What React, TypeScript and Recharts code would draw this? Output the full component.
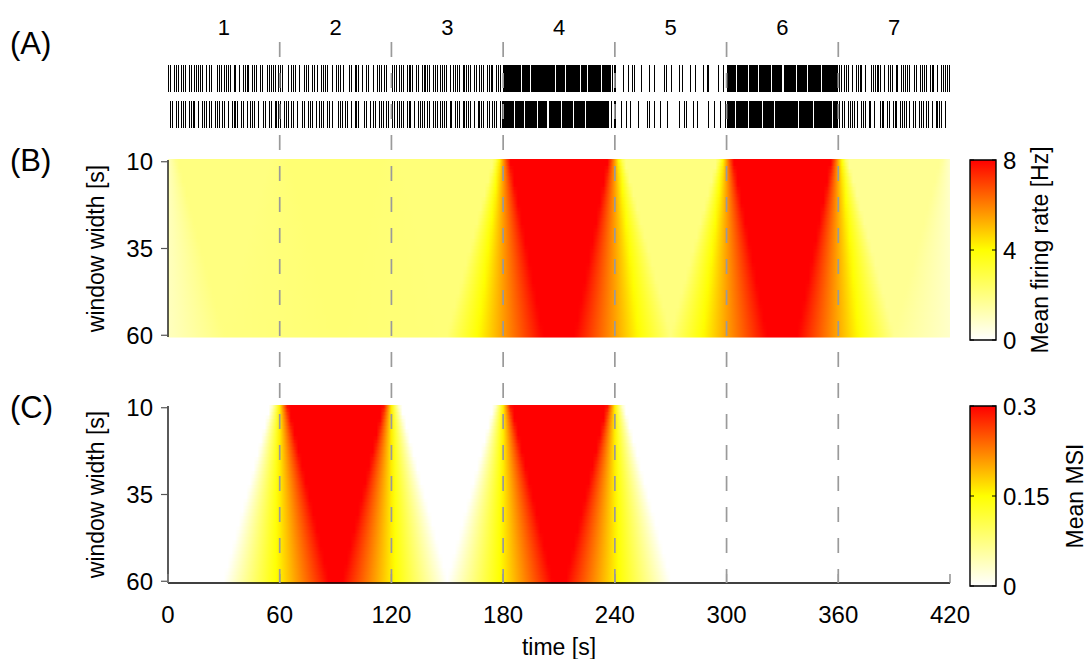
import React from "react";
import { BarChart, Bar, ScatterChart, Scatter, XAxis, YAxis, ReferenceLine } from "recharts";

const W = 1089;
const H = 659;
const FONT = "'Liberation Sans', Arial, Helvetica, sans-serif";

// time axis [s]
const SEGMENT_EDGES = [0, 60, 120, 180, 240, 300, 360, 420];
const SEGMENT_LABELS = ["1", "2", "3", "4", "5", "6", "7"];
const TIME_TICKS = [0, 60, 120, 180, 240, 300, 360, 420];

// window widths [s]
const WIDTH_TICKS = [10, 35, 60];
const WIDTH_MIN = 10;
const WIDTH_MAX = 60;

// per-segment values
const SEGMENT_RATE = [2.0, 2.2, 2.1, 9.0, 2.0, 9.0, 1.7]; // Hz
const SEGMENT_MSI = [0, 0.32, 0, 0.32, 0, 0, 0];

const RATE_TICKS = [0, 4, 8];
const MSI_TICKS = [0, 0.15, 0.3];

// spike trains, one string per segment, "|" = spike in that bin
const TRAIN_1 = [
  "||.|||.|||.||.|||||.|.||..|||.||||.||.|.||||.|||.||..|||||.|",
  "||..|.|||.|..|||.||.|.||||..|.|||.|..||.|||.|.||..|.|||.||..",
  "|||.|||.||||.||.|||||.|||.||||.|.||||.|||||.||.|||.||||.|||.",
  "||||||||.|||||||||||.||||||||..||||||||||||.|||||||||||||.||||||||||.|||||||||||||||.|||||||.||||||||||||||.||||||||||.|.|",
  "|...|..|.||...|...|..|....||..|...|.|...|..|...|.||....|..|.",
  "||||||||||.||||||||||||.||||||||||.|||||||||||||.|||||||||||..|||||||||||||.|||||||||||.||||||||||||||.|||||||||||||||.||",
  "||.|||.|.||||.|..||||||.|.|||.||.|||||..||.||||.|||.|.|||||",
];
const TRAIN_2 = [
  ".||.||.|||.||||.|.|||.||.|||.||.|.||||.||.|.|||.|..||.||.|||",
  "|.|||.||.|..||.|||.|.|||.||.|..|||.||.|.|||..||.|.||.|||.||.",
  "||.||||.|||.|.||||.||.|||.||||.||.|||.|||||.|.||||.||.|||.||",
  "||||||||||||.||||||||||.|||||||||||||.||||||||||..|||||||||||||.||||||||||||.||||||||||||.|||||||||.|||||||||||||||..|..|",
  "|..|..|.|...|....||..|..|...|.....|..||...|.|.....|..|..|..|",
  "|||||||||.|||||||||||||.||||||||||||||.||||||||||||.||||||||||||||.||||||||||..|||||||||||||||.|||||||||||||||||||.||||||",
  "|.||.||||.|.|||.||.|..|||.||.|||.||||.|.||.|||.||.|.||||.|..",
];

const CMAP = [
  [255, 255, 255],
  [255, 255, 0],
  [255, 0, 0],
];

function colour(f: number) {
  const v = Math.max(0, Math.min(1, f)) * (CMAP.length - 1);
  const i = Math.min(CMAP.length - 2, Math.floor(v));
  const u = v - i;
  const c = CMAP[i].map((a, k) => Math.round(a + (CMAP[i + 1][k] - a) * u));
  return `rgb(${c[0]},${c[1]},${c[2]})`;
}

// mean over a window of width w centred at t (zero outside the recording)
function windowMean(vals: number[], t: number, w: number) {
  const a = t - w / 2;
  const b = t + w / 2;
  let sum = 0;
  for (let k = 0; k < vals.length; k++) {
    const lo = Math.max(a, SEGMENT_EDGES[k]);
    const hi = Math.min(b, SEGMENT_EDGES[k + 1]);
    if (hi > lo) sum += vals[k] * (hi - lo);
  }
  return sum / w;
}

const T_END = SEGMENT_EDGES[SEGMENT_EDGES.length - 1];
const ROWS = Array.from({ length: WIDTH_MAX - WIDTH_MIN + 1 }, (_, i) => ({ w: WIDTH_MIN + i, span: T_END }));
const SAMPLE_T = Array.from({ length: T_END / 2 + 1 }, (_, i) => i * 2);

function toSpikes(train: string[], row: number) {
  const out: { t: number; y: number }[] = [];
  train.forEach((s, k) => {
    const t0 = SEGMENT_EDGES[k];
    const bin = (SEGMENT_EDGES[k + 1] - t0) / s.length;
    for (let i = 0; i < s.length; i++) if (s[i] === "|") out.push({ t: t0 + (i + 0.5) * bin, y: row });
  });
  return out;
}
const SPIKES_1 = toSpikes(TRAIN_1, 1.5);
const SPIKES_2 = toSpikes(TRAIN_2, 0.5);

const SEGMENT_MIDS = SEGMENT_LABELS.map((_, k) => (SEGMENT_EDGES[k] + SEGMENT_EDGES[k + 1]) / 2);
const BOUNDARIES = SEGMENT_EDGES.slice(1, -1);
const BOUNDARY_ENDS = BOUNDARIES.flatMap((b) => [
  { t: b, y: 0 },
  { t: b, y: 1 },
]);

const layer: React.CSSProperties = { position: "absolute", left: 0, top: 0 };

function Gradients() {
  const rows = (id: string, vals: number[], vmax: number) =>
    ROWS.map((r) => (
      <linearGradient key={`${id}-${r.w}`} id={`${id}-${r.w}`} x1="0" y1="0" x2="1" y2="0">
        {SAMPLE_T.map((t) => (
          <stop key={t} offset={t / T_END} stopColor={colour(windowMean(vals, t, r.w) / vmax)} />
        ))}
      </linearGradient>
    ));
  const bar = (id: string) => (
    <linearGradient id={id} x1="0" y1="1" x2="0" y2="0">
      {CMAP.map((c, i) => (
        <stop key={i} offset={i / (CMAP.length - 1)} stopColor={`rgb(${c.join(",")})`} />
      ))}
    </linearGradient>
  );
  return (
    <svg width={0} height={0} style={{ position: "absolute" }}>
      <defs>
        {rows("rate", SEGMENT_RATE, RATE_TICKS[RATE_TICKS.length - 1])}
        {rows("msi", SEGMENT_MSI, MSI_TICKS[MSI_TICKS.length - 1])}
        {bar("cbar")}
      </defs>
    </svg>
  );
}

function TimeTick(props: any) {
  const { x, y, payload, showLabel } = props;
  return (
    <g>
      <line x1={x} x2={x} y1={y} y2={y - 9} stroke="#808080" strokeWidth={1.3} />
      {showLabel && (
        <text x={x} y={y + 40} textAnchor="middle" fontSize={24} fill="#000" fontFamily={FONT}>
          {payload.value}
        </text>
      )}
    </g>
  );
}

function BarTick(props: any) {
  const { x, y, payload } = props;
  return (
    <g>
      <line x1={x - 7} x2={x - 11} y1={y} y2={y} stroke="#000" />
      <line x1={x - 33} x2={x - 29} y1={y} y2={y} stroke="#000" />
      <text x={x} y={y + 8.5} fontSize={24} fill="#000" fontFamily={FONT}>
        {payload.value}
      </text>
    </g>
  );
}

function Heatmap({ id, top, bottom, showTime }: { id: string; top: number; bottom: number; showTime: boolean }) {
  const xh = showTime ? H - bottom : 0;
  return (
    <div style={layer}>
      <BarChart
        width={W}
        height={H}
        data={ROWS}
        layout="vertical"
        margin={{ top, right: W - 950, bottom: H - bottom - xh, left: 24 }}
        barCategoryGap={0}
        barGap={0}
      >
        <XAxis
          type="number"
          domain={[0, T_END]}
          ticks={TIME_TICKS}
          height={xh}
          axisLine={{ stroke: "#000", strokeWidth: 1.3 }}
          tickLine={false}
          tickSize={0}
          tickMargin={0}
          tick={<TimeTick showLabel={showTime} />}
          label={showTime ? { value: "time [s]", position: "insideBottom", offset: 4, fontSize: 23, fill: "#000" } : undefined}
        />
        <YAxis
          type="category"
          dataKey="w"
          ticks={WIDTH_TICKS}
          width={144}
          tickSize={7}
          tickMargin={8}
          axisLine={{ stroke: "#000", strokeWidth: 1.3 }}
          tickLine={{ stroke: "#555", strokeWidth: 1.2 }}
          tick={{ fontSize: 24, fill: "#000", fontFamily: FONT }}
          label={{ value: "window width [s]", angle: -90, position: "center", fontSize: 23, fill: "#000" }}
        />
        <Bar
          dataKey="span"
          isAnimationActive={false}
          shape={(p: any) => (
            <rect x={p.x} y={p.y - 1} width={p.width} height={p.height + 2} fill={`url(#${id}-${p.payload.w})`} />
          )}
        />
      </BarChart>
    </div>
  );
}

function Colorbar({ top, bottom, ticks, label, axisW }: { top: number; bottom: number; ticks: number[]; label: string; axisW: number }) {
  const cw = 1200;
  return (
    <div style={layer}>
      <BarChart
        width={cw}
        height={H}
        data={[{ v: ticks[ticks.length - 1] }]}
        margin={{ top, bottom: H - bottom, left: 970, right: cw - 996 - axisW }}
        barCategoryGap={0}
      >
        <XAxis type="category" hide />
        <YAxis
          orientation="right"
          type="number"
          domain={[ticks[0], ticks[ticks.length - 1]]}
          ticks={ticks}
          width={axisW}
          axisLine={false}
          tickLine={false}
          tickSize={0}
          tickMargin={7}
          tick={<BarTick />}
          label={{ value: label, angle: -90, position: "center", fontSize: 23, fill: "#000" }}
        />
        <Bar dataKey="v" fill="url(#cbar)" stroke="#000" strokeWidth={1.4} isAnimationActive={false} />
      </BarChart>
    </div>
  );
}

const panelLabel = (text: string, top: number): React.ReactNode => (
  <div style={{ position: "absolute", left: 10, top, fontSize: 31, lineHeight: "34px", fontFamily: FONT }}>{text}</div>
);

export default function App() {
  return (
    <div style={{ position: "absolute", left: 0, top: 0, width: W, height: H, overflow: "hidden", background: "#fff", fontFamily: FONT }}>
      <Gradients />
      {panelLabel("(A)", 27)}
      {panelLabel("(B)", 144)}
      {panelLabel("(C)", 391)}

      <div style={layer}>
        <ScatterChart width={W} height={H} margin={{ top: 60, right: W - 950, bottom: H - 132, left: 168 }}>
          <XAxis type="number" dataKey="t" domain={[0, T_END]} hide />
          <YAxis type="number" dataKey="y" domain={[0, 2]} hide />
          {[SPIKES_1, SPIKES_2].map((d, i) => (
            <Scatter
              key={i}
              data={d}
              isAnimationActive={false}
              shape={(p: any) => (
                <line x1={p.cx} x2={p.cx} y1={p.cy - 13.5} y2={p.cy + 13.5} stroke="#000" strokeWidth={1} shapeRendering="crispEdges" />
              )}
            />
          ))}
        </ScatterChart>
      </div>

      <Heatmap id="rate" top={160} bottom={337} showTime={false} />
      <Heatmap id="msi" top={406} bottom={583} showTime={true} />

      <Colorbar top={160} bottom={340} ticks={RATE_TICKS} label="Mean firing rate [Hz]" axisW={88} />
      <Colorbar top={406} bottom={586} ticks={MSI_TICKS} label="Mean MSI" axisW={158} />

      <div style={{ ...layer, pointerEvents: "none" }}>
        <ScatterChart width={W} height={H} margin={{ top: 0, right: W - 950, bottom: H - 583, left: 168 }}>
          <XAxis
            type="number"
            dataKey="t"
            orientation="top"
            domain={[0, T_END]}
            ticks={SEGMENT_MIDS}
            tickFormatter={(v: number) => SEGMENT_LABELS[SEGMENT_MIDS.indexOf(v)]}
            height={42}
            axisLine={false}
            tickLine={false}
            tickSize={0}
            tickMargin={7}
            tick={{ fontSize: 22, fill: "#000", fontFamily: FONT }}
          />
          <YAxis type="number" dataKey="y" domain={[0, 1]} hide />
          <Scatter data={BOUNDARY_ENDS} isAnimationActive={false} shape={() => <g />} />
          {BOUNDARIES.map((b) => (
            <ReferenceLine
              key={b}
              segment={[
                { x: b, y: 1 },
                { x: b, y: 0 },
              ]}
              stroke="#9a9a9a"
              strokeWidth={1.7}
              strokeDasharray="15 16"
            />
          ))}
        </ScatterChart>
      </div>
    </div>
  );
}
